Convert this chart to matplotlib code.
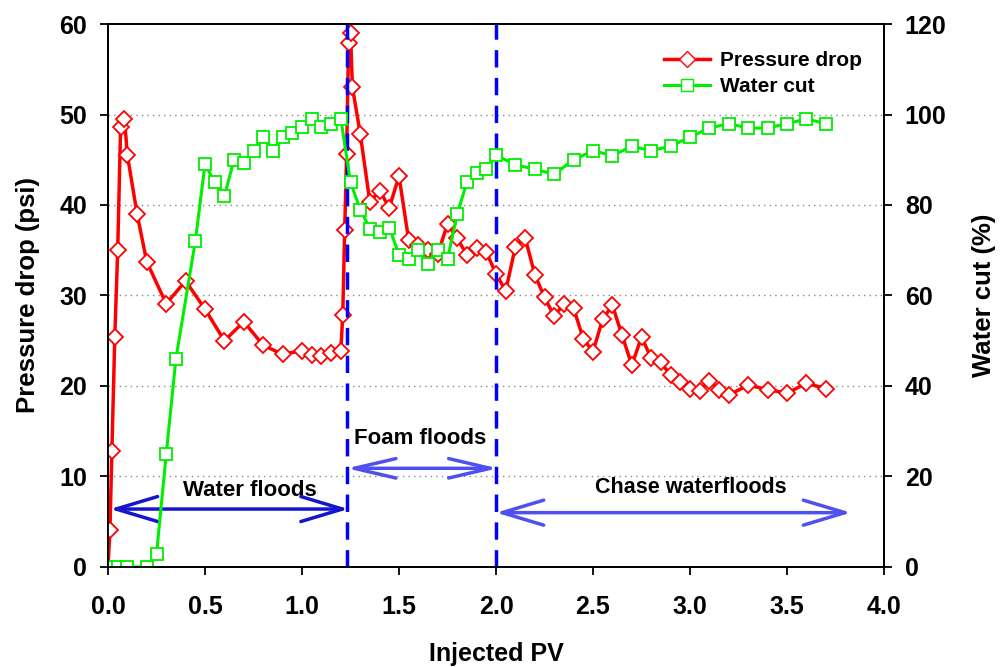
import numpy as np
import matplotlib
matplotlib.use('Agg')
import matplotlib.pyplot as plt
from matplotlib.lines import Line2D

# pressure drop (psi) vs injected PV
pv_dp = [0.0, 0.01, 0.02, 0.035, 0.05, 0.065, 0.085, 0.1, 0.15, 0.2, 0.3, 0.4, 0.5,
         0.6, 0.7, 0.8, 0.9, 1.0, 1.05, 1.1, 1.15, 1.2, 1.21, 1.22, 1.23, 1.24, 1.25,
         1.26, 1.3, 1.35, 1.4, 1.45, 1.5, 1.55, 1.6, 1.65, 1.7, 1.75, 1.8, 1.85, 1.9,
         1.95, 2.0, 2.05, 2.1, 2.15, 2.2, 2.25, 2.3, 2.35, 2.4, 2.45, 2.5, 2.55, 2.6,
         2.65, 2.7, 2.75, 2.8, 2.85, 2.9, 2.95, 3.0, 3.05, 3.1, 3.15, 3.2, 3.3, 3.4,
         3.5, 3.6, 3.7]
dp = [0.0, 4.1, 12.8, 25.4, 35.0, 48.6, 49.5, 45.5, 39.0, 33.7, 29.1, 31.6, 28.5,
      25.0, 27.1, 24.5, 23.5, 23.9, 23.4, 23.3, 23.6, 23.9, 27.8, 37.2, 45.6, 57.9, 59.0,
      53.0, 47.9, 40.3, 41.6, 39.7, 43.2, 36.1, 35.6, 35.0, 34.6, 37.9, 36.3, 34.5, 35.2,
      34.8, 32.4, 30.5, 35.4, 36.4, 32.3, 29.8, 27.7, 29.1, 28.6, 25.2, 23.8, 27.4, 28.9,
      25.6, 22.3, 25.4, 23.1, 22.6, 21.2, 20.4, 19.7, 19.4, 20.6, 19.5, 19.0, 20.1, 19.6,
      19.2, 20.3, 19.7]

# water cut (%) vs injected PV
pv_wc = [0.0, 0.05, 0.1, 0.2, 0.25, 0.3, 0.35, 0.45, 0.5, 0.55, 0.6, 0.65, 0.7, 0.75,
         0.8, 0.85, 0.9, 0.95, 1.0, 1.05, 1.1, 1.15, 1.2, 1.25, 1.3, 1.35, 1.4, 1.45,
         1.5, 1.55, 1.6, 1.65, 1.7, 1.75, 1.8, 1.85, 1.9, 1.95, 2.0, 2.1, 2.2, 2.3, 2.4,
         2.5, 2.6, 2.7, 2.8, 2.9, 3.0, 3.1, 3.2, 3.3, 3.4, 3.5, 3.6, 3.7]
wc = [0, 0, 0, 0, 2.8, 24.9, 46.0, 72.0, 89.0, 85.0, 82.0, 90.0, 89.2, 92.0,
      95.0, 92.0, 95.0, 96.0, 97.2, 99.0, 97.2, 98.0, 99.1, 85.0, 79.0, 74.8, 74.0, 75.0,
      69.0, 68.0, 70.0, 67.0, 70.0, 68.0, 78.0, 85.0, 87.0, 87.9, 91.0, 88.9, 87.9, 86.8, 90.0,
      92.0, 90.9, 93.0, 92.0, 93.0, 95.0, 97.0, 98.0, 97.0, 97.0, 98.0, 99.0, 98.0]

stage_bounds = [1.23, 2.0]

plt.rcParams['font.family'] = ['Liberation Sans', 'DejaVu Sans']
plt.rcParams['font.weight'] = 'bold'

fig = plt.figure(figsize=(10, 6.67), dpi=100)
ax = fig.add_axes([0.108, 0.15, 0.776, 0.814])
ax2 = ax.twinx()

for y in range(10, 60, 10):
    ax.axhline(y, color='#888888', lw=1, ls=(0, (1, 3)), zorder=0)

ax.plot(pv_dp, dp, color='red', lw=2.5, marker='D', ms=8, mfc='white', mec='red',
        mew=1.3, zorder=3)
ax2.plot(pv_wc, wc, color='#00EE00', lw=2.2, marker='s', ms=9, mfc='white',
         mec='#00EE00', mew=1.3, zorder=2)

for xb in stage_bounds:
    ax.axvline(xb, color='#0000FF', lw=2.5, ls=(0, (5, 3)), zorder=4)

def span_arrow(x0, x1, y, color, hw=0.9):
    ax.annotate('', xy=(x0, y), xytext=(x1, y),
                arrowprops=dict(arrowstyle=f'<->,head_length=3.0,head_width={hw}',
                                color=color, lw=2.5, mutation_scale=10,
                                shrinkA=0, shrinkB=0), zorder=5)

span_arrow(0.01, 1.24, 6.4, '#1515CC')
span_arrow(1.23, 2.01, 10.9, '#5050F0', 0.7)
span_arrow(2.0, 3.83, 6.0, '#5050F0')
ax.text(0.73, 8.5, 'Water floods', ha='center', va='center', fontsize=16, fontweight='bold')
ax.text(1.61, 14.2, 'Foam floods', ha='center', va='center', fontsize=16, fontweight='bold')
ax.text(3.005, 8.8, 'Chase waterfloods', ha='center', va='center', fontsize=15.5, fontweight='bold')

ax.set_xlim(0, 4.0)
ax.set_ylim(0, 60)
ax2.set_ylim(0, 120)
ax.set_xticks(np.arange(0, 4.01, 0.5))
ax.set_xticklabels([f'{v:.1f}' for v in np.arange(0, 4.01, 0.5)])
ax.set_yticks(range(0, 61, 10))
ax2.set_yticks(range(0, 121, 20))

for a in (ax, ax2):
    a.tick_params(labelsize=18, width=1.3, length=6, direction='out', pad=9)
    for s in a.spines.values():
        s.set_linewidth(1.3)
ax.tick_params(axis='x', pad=14)
for lab in ax.get_xticklabels() + ax.get_yticklabels() + ax2.get_yticklabels():
    lab.set_fontweight('bold')

ax.set_xlabel('Injected PV', fontsize=18, fontweight='bold', labelpad=17)
ax.set_ylabel('Pressure drop (psi)', fontsize=18.5, fontweight='bold', labelpad=14)
ax2.set_ylabel('Water cut (%)', fontsize=18.5, fontweight='bold', labelpad=18)

handles = [Line2D([], [], color='red', lw=2.5, marker='D', ms=8, mfc='white', mec='red'),
           Line2D([], [], color='#00EE00', lw=2.2, marker='s', ms=9, mfc='white', mec='#00EE00')]
ax2.legend(handles, ['Pressure drop', 'Water cut'], loc='upper right', frameon=False,
           fontsize=15, bbox_to_anchor=(0.996, 0.985), handlelength=2.2,
           handletextpad=0.5, labelspacing=0.35)

fig.savefig('out.png', dpi=100)
